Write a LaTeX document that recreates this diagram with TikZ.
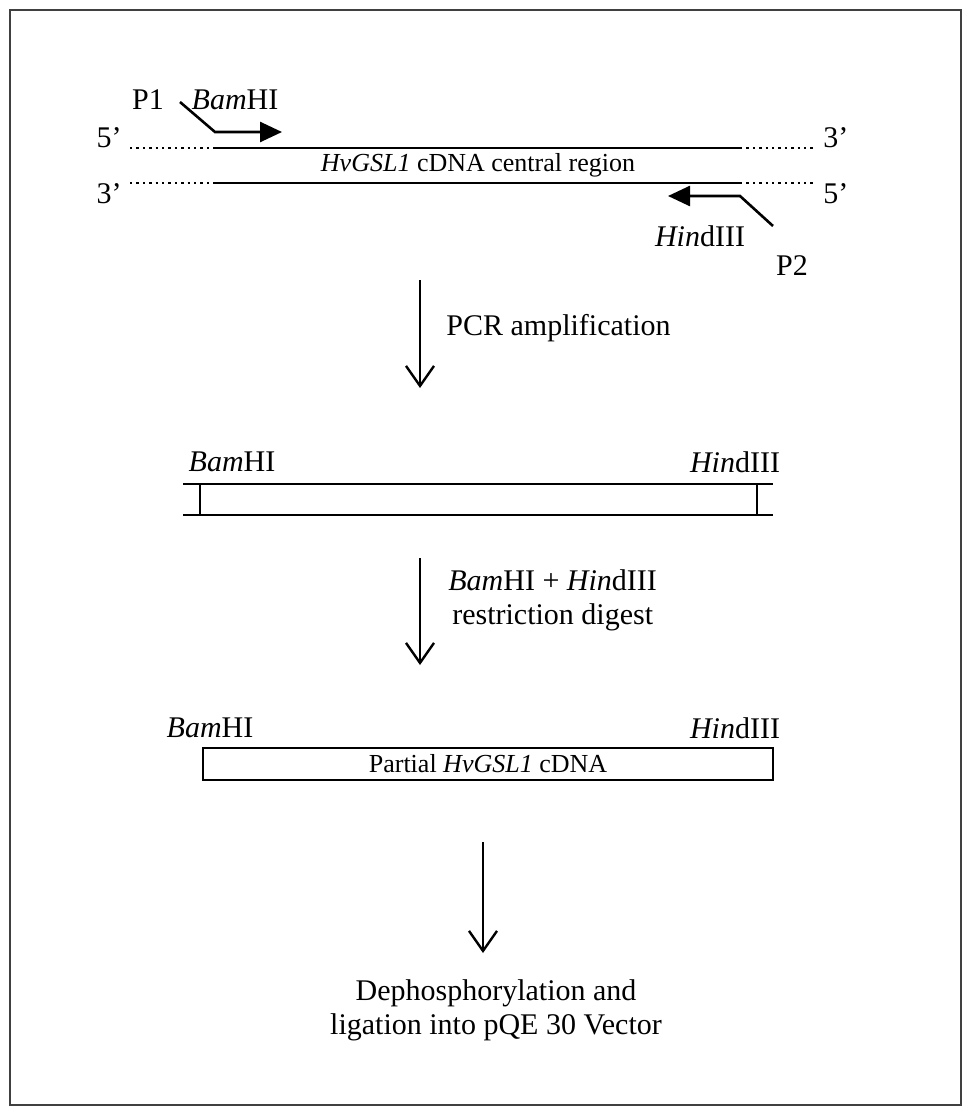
\documentclass[tikz,border=0pt]{standalone}
\usepackage{fontspec}
\setmainfont{Liberation Serif}
\usetikzlibrary{arrows.meta,positioning}

\tikzset{
  label/.style={inner sep=0pt, font=\fontsize{15}{17}\selectfont},
  small/.style={inner sep=0pt, font=\fontsize{13}{15}\selectfont},
  strand/.style={line width=1.2pt},
  overhang/.style={line width=1.2pt, dotted},
  primer/.style={line width=1.3pt, -{Triangle[length=11pt,width=10pt]}},
  step arrow/.style={line width=1.2pt, -{Straight Barb[length=10pt,width=14pt]}}
}

\begin{document}
\begin{tikzpicture}[x=0.5pt,y=-0.5pt]
  \useasboundingbox (0,0) rectangle (963,1108);
  \draw[line width=1.3pt, black!75] (10,10) rectangle (961,1105);

  % template strands
  \coordinate (t1) at (130,148);
  \coordinate (t2) at (215,148);
  \coordinate (t3) at (740,148);
  \coordinate (t4) at (815,148);
  \coordinate (b1) at (130,183);
  \coordinate (b2) at (215,183);
  \coordinate (b3) at (740,183);
  \coordinate (b4) at (815,183);
  \draw[overhang] (t1) -- (t2);
  \draw[strand] (t2) -- (t3);
  \draw[overhang] (t3) -- (t4);
  \draw[overhang] (b1) -- (b2);
  \draw[strand] (b2) -- (b3);
  \draw[overhang] (b3) -- (b4);
  \node[label, left=4pt of t1, anchor=south east] (t5) {5'};
  \node[label, right=4pt of t4, anchor=south west] (t3p) {3'};
  \node[label, left=4pt of b1, anchor=north east] (b3p) {3'};
  \node[label, right=4pt of b4, anchor=north west] (b5) {5'};
  \node[small] (cdna) at (478,165) {\textit{HvGSL1} cDNA central region};

  % primers
  \node[label] (p1) at (148,100) {P1};
  \node[label] (bam1) at (235,100) {\textit{Bam}HI};
  \coordinate (p1a) at (180,102);
  \coordinate (p1b) at (215,132);
  \coordinate (p1c) at (282,132);
  \draw[primer] (p1a) -- (p1b) -- (p1c);
  \node[label] (hin1) at (700,236) {\textit{Hin}dIII};
  \node[label] (p2) at (792,266) {P2};
  \coordinate (p2a) at (773,226);
  \coordinate (p2b) at (740,196);
  \coordinate (p2c) at (668,196);
  \draw[primer] (p2a) -- (p2b) -- (p2c);

  % PCR product
  \coordinate (pcrL) at (420,280);
  \coordinate (pcrR) at (420,388);
  \draw[step arrow] (pcrL) -- (pcrR);
  \node[label, anchor=west] (pcr) at (446,328) {PCR amplification};

  \node[label] (bam2) at (232,462) {\textit{Bam}HI};
  \node[label] (hin2) at (735,462) {\textit{Hin}dIII};
  \coordinate (u1) at (183,484);
  \coordinate (u2) at (773,484);
  \coordinate (l1) at (183,515);
  \coordinate (l2) at (773,515);
  \draw[strand] (u1) -- (u2);
  \draw[strand] (l1) -- (l2);
  \draw[strand] (200,484) -- (200,515);
  \draw[strand] (757,484) -- (757,515);

  % digest
  \coordinate (digT) at (420,558);
  \coordinate (digB) at (420,665);
  \draw[step arrow] (digT) -- (digB);
  \node[label, align=center, anchor=west] (dig) at (448,600) {\textit{Bam}HI + \textit{Hin}dIII\\restriction digest};

  \node[label] (bam3) at (210,728) {\textit{Bam}HI};
  \node[label] (hin3) at (735,728) {\textit{Hin}dIII};
  \node[small, draw, line width=1.2pt, minimum width=285pt, minimum height=16pt] (frag) at (488,764) {Partial \textit{HvGSL1} cDNA};

  % ligation
  \coordinate (ligT) at (483,842);
  \coordinate (ligB) at (483,953);
  \draw[step arrow] (ligT) -- (ligB);
  \node[label, align=center] (lig) at (496,1010) {Dephosphorylation and\\ligation into pQE 30 Vector};
\end{tikzpicture}
\end{document}
